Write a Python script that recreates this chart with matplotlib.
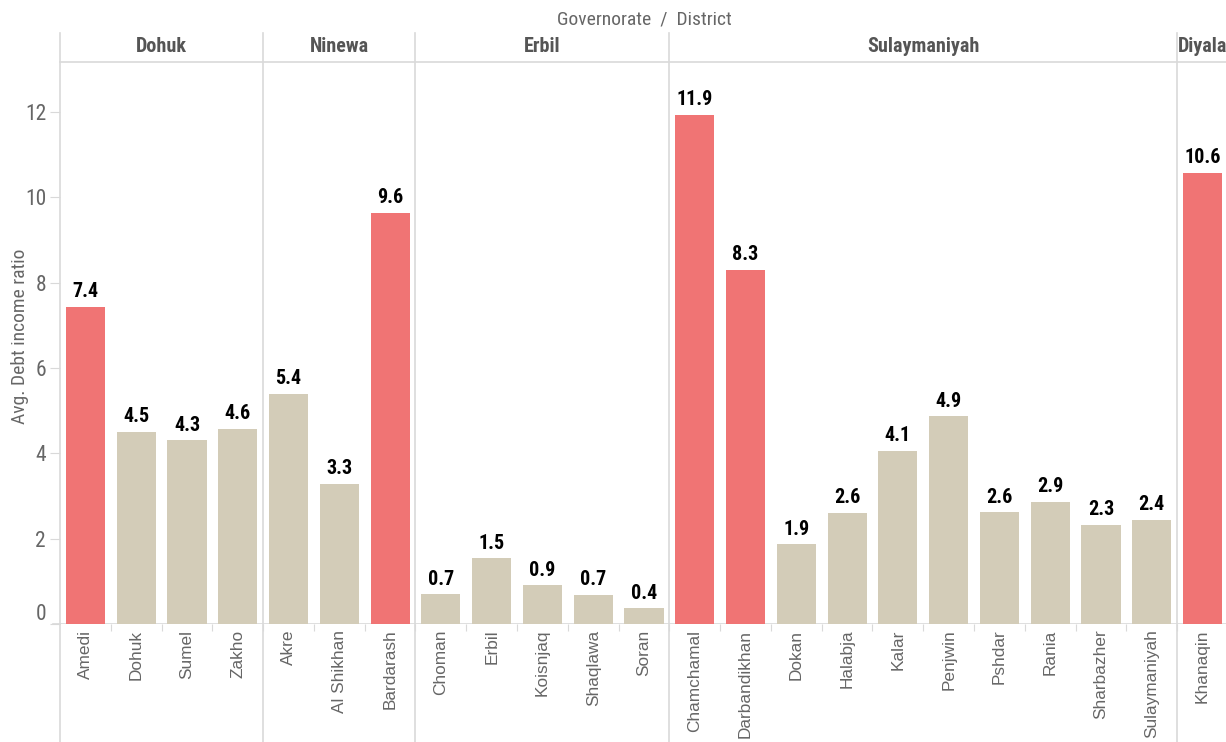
import os
import matplotlib
matplotlib.use("Agg")
import matplotlib.pyplot as plt
import matplotlib.transforms as mtransforms
from matplotlib.font_manager import fontManager, FontProperties

# ---- data -------------------------------------------------------------
governorates = ["Dohuk", "Ninewa", "Erbil", "Sulaymaniyah", "Diyala"]
district_counts = [4, 3, 5, 10, 1]
districts = [
    "Amedi", "Dohuk", "Sumel", "Zakho",
    "Akre", "Al Shikhan", "Bardarash",
    "Choman", "Erbil", "Koisnjaq", "Shaqlawa", "Soran",
    "Chamchamal", "Darbandikhan", "Dokan", "Halabja", "Kalar", "Penjwin",
    "Pshdar", "Rania", "Sharbazher", "Sulaymaniyah",
    "Khanaqin",
]
debt_income_ratio = [
    7.43, 4.50, 4.31, 4.57,
    5.39, 3.28, 9.64,
    0.70, 1.54, 0.91, 0.68, 0.37,
    11.93, 8.30, 1.87, 2.60, 4.06, 4.87,
    2.62, 2.86, 2.32, 2.44,
    10.57,
]
y_ticks = [0, 2, 4, 6, 8, 10, 12]
high_threshold = 6.0


# ---- fonts: prefer a narrow sans face, fall back to Liberation Sans ----
def pick_font(candidates, fallback_family, weight="normal"):
    files = {os.path.basename(f.fname).lower(): f.fname for f in fontManager.ttflist}
    for cand in candidates:
        if cand in files:
            return lambda size: FontProperties(fname=files[cand], size=size)
    return lambda size: FontProperties(family=fallback_family, weight=weight, size=size)


narrow_regular = pick_font(
    ["liberationsansnarrow-regular.ttf", "notosans-condensed.ttf",
     "robotocondensed-regular.ttf", "opensans-condensedregular.ttf",
     "dejavusanscondensed.ttf"],
    "Liberation Sans")
narrow_bold = pick_font(
    ["liberationsansnarrow-bold.ttf", "notosans-condensedbold.ttf",
     "robotocondensed-bold.ttf", "opensans-condensedbold.ttf",
     "dejavusanscondensed-bold.ttf"],
    "Liberation Sans", weight="bold")
regular = lambda size: FontProperties(family="Liberation Sans", size=size)

RED = "#F07474"
BEIGE = "#D3CCB8"
GRID = "#D9D9D9"
HEAD = "#555555"
TICK = "#666666"

W, H = 1226, 742
fig = plt.figure(figsize=(W / 100, H / 100), dpi=100)
ax = fig.add_axes([60 / W, 118 / H, 1166 / W, 562 / H])

slot_px = 50.78
x_max = 1166 / slot_px
positions = [i + 0.5 for i in range(len(districts))]
colors = [RED if v >= high_threshold else BEIGE for v in debt_income_ratio]

ax.bar(positions, debt_income_ratio, width=0.77, color=colors, zorder=2)

for x, v in zip(positions, debt_income_ratio):
    ax.annotate(f"{v:.1f}", (x, v), xytext=(0, 4), textcoords="offset points",
                ha="center", va="bottom", fontproperties=narrow_bold(14.5),
                color="black")

ax.set_xlim(0, x_max)
ax.set_ylim(0, 13.17)

for s in ax.spines.values():
    s.set_visible(False)

# y axis
ax.set_yticks(y_ticks)
ax.set_yticklabels([str(t) for t in y_ticks])
ax.tick_params(axis="y", length=7, width=0.8, color=GRID, pad=3,
               labelcolor=TICK)
for lab in ax.get_yticklabels():
    lab.set_fontproperties(narrow_regular(15.5))
zero_lab = ax.get_yticklabels()[0]
zero_lab.set_transform(zero_lab.get_transform() +
                       mtransforms.ScaledTranslation(0, 12 / 100, fig.dpi_scale_trans))

ax.set_ylabel("Avg. Debt income ratio", color=TICK,
              fontproperties=narrow_regular(14))
ax.yaxis.label.set_va("center")
ax.yaxis.set_label_coords(-40 / 1166, 0.512)

# x axis: district labels and boundary ticks
ax.set_xticks(positions)
ax.set_xticklabels(districts, rotation=90, color=TICK, va="top")
for lab in ax.get_xticklabels():
    lab.set_fontproperties(regular(12.4))
ax.tick_params(axis="x", length=0, pad=4)
ax.set_xticks(list(range(1, len(districts))), minor=True)
ax.tick_params(axis="x", which="minor", length=5, width=0.8, color=GRID)

# baseline
ax.axhline(0, color=GRID, lw=1.2, zorder=1)
ax.plot([-7 / slot_px, 0], [0, 0], color=GRID, lw=1.2, clip_on=False)

# governorate panels: separators and headers
bottom_ext = -118 / 562
top_ext = (624 - 33) / 562
ax.axvline(0, ymin=bottom_ext, ymax=top_ext, color=GRID, lw=1.2, clip_on=False)
ax.plot([0, x_max], [1.0, 1.0], transform=ax.get_xaxis_transform(),
        color=GRID, lw=1.2, clip_on=False)

head_tr = mtransforms.blended_transform_factory(ax.transData, ax.transAxes)
start = 0
for name, n in zip(governorates, district_counts):
    end = start + n
    if end < x_max:
        ax.axvline(end, ymin=bottom_ext, ymax=top_ext, color=GRID, lw=1.2,
                   clip_on=False)
    ax.text((start + end) / 2, (624 - 47) / 562, name, transform=head_tr,
            ha="center", va="center", fontproperties=narrow_bold(14.5),
            color=HEAD, clip_on=False)
    start = end

ax.text(len(districts) / 2, (624 - 19) / 562, "Governorate  /  District",
        transform=head_tr, ha="center", va="center",
        fontproperties=narrow_regular(14), color=TICK)

fig.savefig("out.png", dpi=100)
